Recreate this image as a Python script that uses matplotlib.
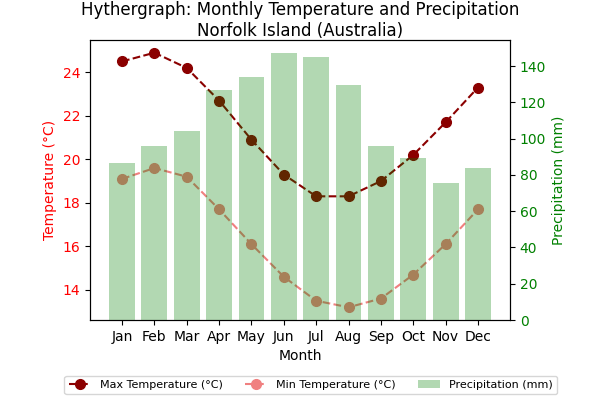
import matplotlib
matplotlib.use("Agg")
import matplotlib.pyplot as plt

months = ["Jan", "Feb", "Mar", "Apr", "May", "Jun",
          "Jul", "Aug", "Sep", "Oct", "Nov", "Dec"]
max_temp = [24.5, 24.9, 24.2, 22.7, 20.9, 19.3, 18.3, 18.3, 19.0, 20.2, 21.7, 23.3]
min_temp = [19.1, 19.6, 19.2, 17.7, 16.1, 14.6, 13.5, 13.2, 13.6, 14.7, 16.1, 17.7]
precip = [86.5, 96, 104, 127, 134, 147, 145, 129.5, 96, 89.3, 75.5, 84]

fig, ax1 = plt.subplots(figsize=(6, 4), dpi=100)
l1, = ax1.plot(months, max_temp, "o--", color="darkred", ms=7,
               label="Max Temperature (°C)")
l2, = ax1.plot(months, min_temp, "o--", color="lightcoral", ms=7,
               label="Min Temperature (°C)")
ax1.set_xlabel("Month")
ax1.set_ylabel("Temperature (°C)", color="red")
ax1.tick_params(axis="y", labelcolor="red")

ax2 = ax1.twinx()
bars = ax2.bar(months, precip, color="green", alpha=0.3,
               label="Precipitation (mm)")
ax2.set_ylabel("Precipitation (mm)", color="green")
ax2.tick_params(axis="y", labelcolor="green")

ax1.set_title("Hythergraph: Monthly Temperature and Precipitation\n"
              "Norfolk Island (Australia)", pad=2)
fig.legend([l1, l2, bars], [l1.get_label(), l2.get_label(), bars.get_label()],
           loc="lower center", bbox_to_anchor=(0.518, 0.0), ncol=3, fontsize=8)
fig.subplots_adjust(left=0.15, right=0.85, top=0.9, bottom=0.2)
fig.savefig("out.png")
